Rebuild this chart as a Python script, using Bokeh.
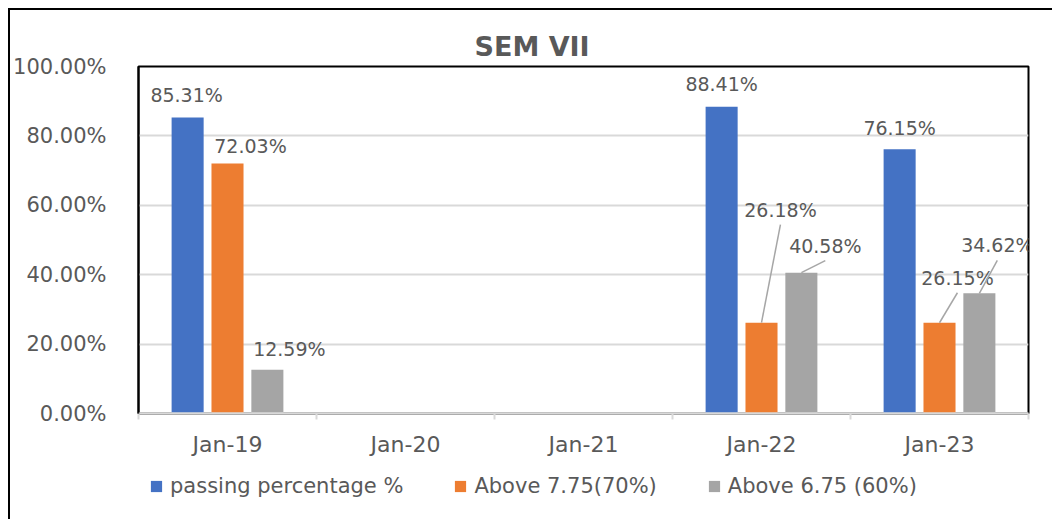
from bokeh.plotting import figure
from bokeh.layouts import column
from bokeh.models import (Range1d, FixedTicker, PrintfTickFormatter,
                          ColumnDataSource, Legend, LegendItem, Span)
from bokeh.core.properties import value
from bokeh.embed import file_html
from bokeh.resources import INLINE

# ---------------- data ----------------
categories = ["Jan-19", "Jan-20", "Jan-21", "Jan-22", "Jan-23"]
series_names = ["passing percentage %", "Above 7.75(70%)", "Above 6.75 (60%)"]
passing = [85.31, None, None, 88.41, 76.15]
above_775 = [72.03, None, None, 26.18, 26.15]
above_675 = [12.59, None, None, 40.58, 34.62]
y_ticks = [0, 20, 40, 60, 80, 100]

# ---------------- style / placement ----------------
colors = ["#4472C4", "#ED7D31", "#A5A5A5"]
dodge = [-0.224, 0.0, 0.224]
bar_w = 0.18
# data-label offsets in screen pixels (dx right, dy down) per series / category
label_dx = [[-1, 0, 0, 0, 0], [23, 0, 0, 19, 18], [22, 0, 0, 24, 18]]
label_dy = [[-22, 0, 0, -23, -21], [-18, 0, 0, -113, -45], [-21, 0, 0, -27, -48]]
leader = [[False] * 5, [False, False, False, True, True], [False, False, False, True, True]]

FONT = "DejaVu Sans"
TXT = "#595959"
W, H_MAIN, H_LEG = 1042, 460, 49
FL, FR, FT, FB = 125, 1018, 56, 403
frame_w, frame_h = FR - FL, FB - FT
xpp = len(categories) / frame_w
ypp = 100.0 / frame_h

p = figure(width=W, height=H_MAIN, output_backend="svg", toolbar_location=None,
           x_range=Range1d(0, len(categories)), y_range=Range1d(0, 100),
           min_border_left=FL, min_border_right=W - FR, min_border_top=FT,
           min_border_bottom=H_MAIN - FB)

p.title.text = "SEM VII"
p.title.align = "left"
p.title.offset = 336
p.title.text_font = FONT
p.title.text_font_size = "27px"
p.title.text_font_style = "bold"
p.title.text_color = TXT
p.title.standoff = 9

p.outline_line_color = "#000000"
p.outline_line_width = 2

# axes
centers = [i + 0.5 for i in range(len(categories))]
p.xaxis.ticker = FixedTicker(ticks=centers, minor_ticks=list(range(len(categories) + 1)))
p.xaxis.major_label_overrides = {c: lab for c, lab in zip(centers, categories)}
p.xaxis.major_tick_line_color = None
p.xaxis.minor_tick_in = 0
p.xaxis.minor_tick_out = 6
p.xaxis.minor_tick_line_color = "#d9d9d9"
p.xaxis.minor_tick_line_width = 2
p.xaxis.axis_line_color = "#d9d9d9"
p.xaxis.axis_line_width = 2
p.xaxis.major_label_text_font = FONT
p.xaxis.major_label_text_font_size = "22px"
p.xaxis.major_label_text_color = TXT
p.xaxis.major_label_standoff = 12
p.xgrid.visible = False

p.yaxis.ticker = FixedTicker(ticks=y_ticks)
p.yaxis.formatter = PrintfTickFormatter(format="%.2f%%")
p.yaxis.major_tick_line_color = None
p.yaxis.minor_tick_line_color = None
p.yaxis.axis_line_color = "#000000"
p.yaxis.axis_line_width = 2
p.yaxis.major_label_text_font = FONT
p.yaxis.major_label_text_font_size = "21px"
p.yaxis.major_label_text_color = TXT
p.yaxis.major_label_standoff = 26
p.ygrid.ticker = FixedTicker(ticks=y_ticks)
p.ygrid.grid_line_color = "#d9d9d9"
p.ygrid.grid_line_width = 2

p.add_layout(Span(location=0, dimension="width", line_color="#d9d9d9", line_width=2))

all_series = [passing, above_775, above_675]
for s, vals in enumerate(all_series):
    xs, tops, txt, dxs, dys = [], [], [], [], []
    lx0, ly0, lx1, ly1 = [], [], [], []
    for i, v in enumerate(vals):
        if v is None:
            continue
        x = i + 0.5 + dodge[s]
        xs.append(x)
        tops.append(v)
        txt.append(f"{v:.2f}%")
        dxs.append(label_dx[s][i])
        dys.append(label_dy[s][i])
        if leader[s][i]:
            lx0.append(x)
            ly0.append(v)
            lx1.append(x + label_dx[s][i] * xpp)
            ly1.append(v - (label_dy[s][i] + 15) * ypp)
    src = ColumnDataSource(dict(x=xs, top=tops, text=txt, dx=dxs, dy=dys))
    p.vbar(x="x", top="top", width=bar_w, bottom=0, source=src,
           fill_color=colors[s], line_color=None)
    if lx0:
        p.segment(x0=lx0, y0=ly0, x1=lx1, y1=ly1, line_color="#a6a6a6", line_width=1.5)
    p.text(x="x", y="top", text="text", x_offset="dx", y_offset="dy", source=src,
           text_align="center", text_baseline="middle", text_font=value(FONT),
           text_font_size="19px", text_color=TXT)

# ---------------- legend strip ----------------
pl = figure(width=W, height=H_LEG, output_backend="svg", toolbar_location=None,
            x_range=Range1d(0, 1), y_range=Range1d(0, 1),
            min_border_left=0, min_border_right=0, min_border_top=0, min_border_bottom=0)
pl.axis.visible = False
pl.grid.visible = False
pl.outline_line_color = None
# legend swatches only: zero-height keys, nothing visible in the strip itself
leg_renderers = [pl.vbar(x=[-5], top=[0], bottom=0, width=0.01, fill_color=c, line_color=None)
                 for c in colors]
legend = Legend(items=[LegendItem(label=n, renderers=[r]) for n, r in zip(series_names, leg_renderers)],
                orientation="horizontal", location=(11, 21),
                border_line_color=None, background_fill_alpha=0,
                glyph_width=14, glyph_height=14, label_standoff=7, spacing=50,
                padding=0, margin=0, label_text_font=FONT, label_text_font_size="21px",
                label_text_color=TXT)
pl.add_layout(legend, "center")

layout = column(p, pl, spacing=0)
layout.styles = {"margin-left": "8px", "margin-top": "8px",
                 "border-left": "2px solid #000000", "border-top": "2px solid #000000"}

open("out.html", "w").write(file_html(layout, INLINE))
